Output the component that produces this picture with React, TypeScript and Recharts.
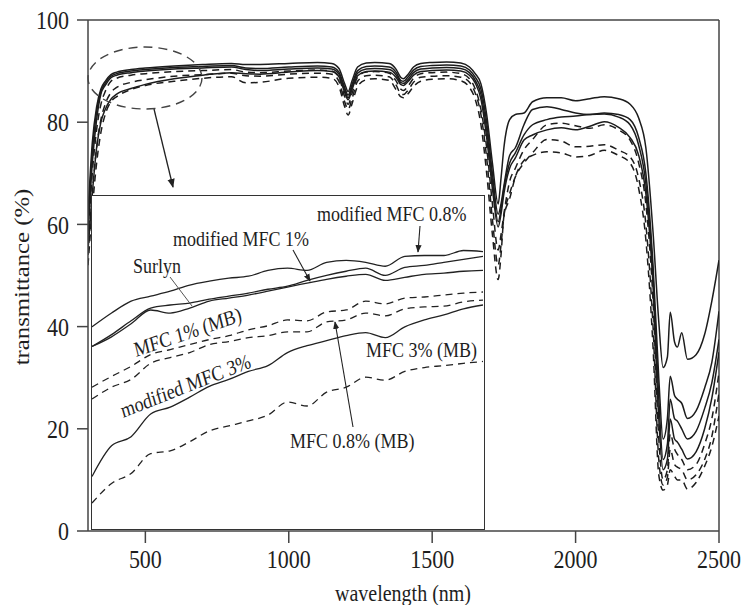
import React from 'react';
import { LineChart, Line, XAxis, YAxis, ReferenceLine } from 'recharts';

// main spectrum, wavelength in nm
const wavelength = [
  300, 315, 330, 345, 360, 380, 400, 450, 500, 600,
  700, 800, 850, 900, 1000, 1100, 1150, 1175, 1195, 1207,
  1220, 1240, 1270, 1300, 1350, 1375, 1390, 1400, 1415, 1435,
  1460, 1500, 1550, 1600, 1630, 1650, 1670, 1690, 1710, 1730,
  1740, 1750, 1770, 1790, 1820, 1850, 1900, 1950, 2000, 2050,
  2100, 2150, 2190, 2220, 2245, 2270, 2290, 2305, 2320, 2330,
  2345, 2355, 2370, 2390, 2420, 2450, 2475, 2500,
];

// solid curves
const solid1 = [
  62, 76, 83, 86.5, 88, 89.3, 89.8, 90.3, 90.6, 91.0,
  91.3, 91.5, 91.3, 91.3, 91.5, 91.7, 91.5, 90.5, 87.5, 86.0,
  88.0, 90.8, 91.6, 91.7, 91.5, 90.3, 88.8, 88.5, 89.3, 90.8,
  91.5, 91.7, 91.8, 91.6, 90.8, 89.5, 87.5, 81.5, 72, 64,
  69, 75, 80.5, 81.5, 81.8, 84, 84.8, 84.8, 84.2, 84.6,
  85.0, 84.6, 83.5, 80.8, 75, 58.5, 41, 32, 34, 42.8,
  37, 36, 38.8, 33.6, 34.5, 38.5, 45, 53,
];
const solid2 = [
  60, 74, 82, 86, 87.6, 89, 89.5, 90.0, 90.3, 90.7,
  90.9, 91.1, 90.6, 90.5, 90.8, 91.0, 90.8, 89.8, 86.8, 85.3,
  87.3, 90.1, 90.9, 91.0, 90.8, 89.7, 88.2, 88.0, 88.8, 90.2,
  90.9, 91.1, 91.2, 91.0, 90.2, 88.8, 86.5, 80, 70, 62,
  64, 67.5, 73.5, 75, 79.5, 82.5, 83, 82.5, 81.8, 81.5,
  81.8, 81.5, 80.5, 77, 70, 52, 30, 18, 22, 30.3,
  26.5, 25.8, 25, 22, 23.5, 28, 33, 43,
];
const solid3 = [
  58, 72, 80.5, 85.5, 87.2, 88.7, 89.2, 89.7, 90.0, 90.4,
  90.6, 90.8, 90.3, 90.1, 90.4, 90.6, 90.4, 89.4, 86.3, 84.8,
  86.8, 89.6, 90.4, 90.5, 90.3, 89.2, 87.8, 87.6, 88.3, 89.7,
  90.4, 90.6, 90.7, 90.5, 89.7, 88.2, 85.5, 78.5, 68.5, 60.5,
  63, 67, 72, 74, 77.5, 79.5, 80.5, 81, 81.2, 81.5,
  81.6, 81, 79.5, 75.5, 68, 50, 26, 14, 17, 25.8,
  22, 21.5, 20, 18, 19.5, 24, 29, 37.5,
];
const solid4 = [
  55, 66, 75, 80, 82.5, 84.5, 85.5, 86.6, 87.4, 88.5,
  89.2, 89.7, 89.5, 89.4, 89.8, 90.1, 89.9, 88.9, 85.8, 84.4,
  86.3, 89.1, 89.9, 90.0, 89.8, 88.7, 87.4, 87.2, 87.9, 89.2,
  89.9, 90.1, 90.2, 90.0, 89.2, 87.7, 84.5, 77, 67, 59.5,
  62, 66, 71, 73, 76.5, 77.5, 78.5, 78.9, 78.5, 79.2,
  80.1, 79, 77, 73.5, 66, 48, 22, 12, 14, 21.9,
  18, 17.4, 16, 14.1, 15.5, 20, 26, 35,
];

// dashed curves
const dashed1 = [
  57, 70, 78.5, 83.5, 86, 88, 88.6, 89.2, 89.5, 89.9,
  90.1, 90.3, 89.8, 89.7, 90.0, 90.2, 90.0, 88.8, 85, 83.5,
  85.5, 88.8, 89.8, 89.9, 89.6, 88, 86.5, 86.2, 87, 88.6,
  89.5, 89.7, 89.8, 89.5, 88.5, 86.5, 82.5, 75, 64, 55,
  58, 62, 68.4, 71, 74.6, 76.6, 79.5, 79.8, 79.3, 78.8,
  79.5, 78.5, 76.5, 72, 64, 45, 18, 10, 12, 19,
  16, 15, 14, 12, 13, 17, 22, 31,
];
const dashed2 = [
  54, 66, 75, 80.5, 83.5, 85.8, 86.8, 87.8, 88.3, 89.0,
  89.3, 89.6, 89.1, 89.0, 89.4, 89.6, 89.4, 88.0, 84, 82.5,
  84.5, 88, 89.1, 89.2, 88.9, 87.2, 85.6, 85.4, 86.2, 87.8,
  88.8, 89.0, 89.1, 88.8, 87.8, 85.7, 81.5, 73, 61, 52,
  56, 61.5, 66, 69.3, 72, 74, 76.6, 76.3, 75.2, 75.3,
  75.6, 74.5, 73.2, 69, 60, 40, 14, 9, 10.5, 16,
  13, 12.5, 12, 10, 11, 14, 18.5, 27,
];
const dashed3 = [
  52, 63, 72, 78, 81.5, 84, 85, 86.4, 87.2, 88.0,
  88.6, 88.9, 87.7, 87.8, 88.6, 88.8, 88.6, 87, 83, 81.4,
  83.5, 87, 88.3, 88.5, 88.2, 86.3, 85, 84.8, 85.5, 87,
  88, 88.4, 88.5, 88.1, 86.8, 84.5, 79.5, 70, 58, 49.2,
  54, 61.5, 65, 69.3, 72.5, 73.5, 74.2, 74, 73.2, 73.5,
  74.5, 73.5, 72, 67, 57, 36, 11, 8, 9, 12,
  10.7, 10, 10, 8.2, 9.5, 12.7, 16.5, 22.5,
];

// inset (close-up of the circled region)
const insetWavelength = [
  300, 320, 340, 360, 380, 400, 420, 440, 460, 480, 500,
  520, 540, 560, 580, 600, 620, 640, 660, 680, 700,
];
const insetModified08 = [87.27, 87.77, 88.2, 88.38, 88.56, 88.78, 88.92, 89.03, 89.1, 89.31, 89.39, 89.31, 89.6, 89.67, 89.6, 89.46, 89.82, 89.85, 89.85, 90.03, 89.99];
const insetModified1 = [86.56, 86.99, 87.49, 87.95, 88.06, 88.13, 88.27, 88.38, 88.49, 88.63, 88.74, 88.95, 89.13, 89.28, 89.39, 89.13, 89.42, 89.49, 89.6, 89.71, 89.82];
const insetSurlyn = [86.56, 86.91, 87.38, 87.88, 87.77, 87.95, 88.2, 88.31, 88.42, 88.56, 88.71, 88.85, 88.99, 89.1, 89.17, 88.95, 89.06, 89.17, 89.21, 89.28, 89.31];
const insetModified3 = [81.86, 82.97, 83.3, 84.12, 84.37, 84.73, 85.12, 85.37, 85.66, 85.87, 86.34, 86.59, 86.77, 86.95, 87.06, 86.88, 87.27, 87.52, 87.7, 87.92, 88.06];
const insetMB1 = [85.09, 85.48, 85.84, 86.27, 86.45, 86.63, 86.81, 86.95, 87.16, 87.31, 87.52, 87.49, 87.81, 87.88, 88.2, 88.1, 88.31, 88.35, 88.42, 88.49, 88.53];
const insetMB08 = [84.66, 85.09, 85.37, 85.95, 86.16, 86.34, 86.63, 86.74, 86.88, 86.95, 87.09, 87.09, 87.45, 87.52, 87.77, 87.67, 87.92, 87.99, 88.02, 88.17, 88.24];
const insetMB3 = [80.9, 81.61, 81.97, 82.69, 82.79, 83.12, 83.51, 83.69, 83.87, 84.08, 84.55, 84.41, 84.91, 85.09, 85.45, 85.34, 85.66, 85.8, 85.87, 85.95, 86.02];

const xTicks = [500, 1000, 1500, 2000, 2500];
const yTicks = [0, 20, 40, 60, 80, 100];

const serif = '"Liberation Serif", "Times New Roman", Times, serif';
const ink = '#1e1e1e';
const axisGrey = '#444';
// the source figure is a little taller than wide, so its glyphs look stretched
const stretch = 1.18;

const XTick = ({ x, y, payload }: any) => (
  <text
    x={0}
    y={0}
    dy="0.71em"
    textAnchor="middle"
    fontFamily={serif}
    fontSize={22}
    fill={ink}
    transform={`translate(${x},${y}) scale(1,${stretch})`}
  >
    {payload.value}
  </text>
);

const YTick = ({ x, y, payload }: any) => (
  <text
    x={0}
    y={0}
    dy="0.355em"
    textAnchor="end"
    fontFamily={serif}
    fontSize={22}
    fill={ink}
    transform={`translate(${x},${y}) scale(1,${stretch})`}
  >
    {payload.value}
  </text>
);

// horizontal note, baseline at (x, y)
const Note = ({ x, y, angle = 0, children }: any) => (
  <text
    x={0}
    y={0}
    transform={`translate(${x},${y}) scale(1,${stretch}) rotate(${-angle})`}
  >
    {children}
  </text>
);

export default function App() {
  const mainSeries = [
    { key: 's1', values: solid1, dashed: false },
    { key: 's2', values: solid2, dashed: false },
    { key: 's3', values: solid3, dashed: false },
    { key: 's4', values: solid4, dashed: false },
    { key: 'd1', values: dashed1, dashed: true },
    { key: 'd2', values: dashed2, dashed: true },
    { key: 'd3', values: dashed3, dashed: true },
  ];
  const insetSeries = [
    { key: 'm08', values: insetModified08, dashed: false },
    { key: 'm1', values: insetModified1, dashed: false },
    { key: 'su', values: insetSurlyn, dashed: false },
    { key: 'm3', values: insetModified3, dashed: false },
    { key: 'b1', values: insetMB1, dashed: true },
    { key: 'b08', values: insetMB08, dashed: true },
    { key: 'b3', values: insetMB3, dashed: true },
  ];

  const mainData = wavelength.map((w, i) => {
    const row: any = { w };
    mainSeries.forEach(s => (row[s.key] = s.values[i]));
    return row;
  });
  const insetData = insetWavelength.map((w, i) => {
    const row: any = { w };
    insetSeries.forEach(s => (row[s.key] = s.values[i]));
    return row;
  });

  return (
    <div
      style={{
        position: 'absolute',
        left: 0,
        top: 0,
        width: 745,
        height: 605,
        background: '#fff',
        overflow: 'hidden',
        fontFamily: serif,
      }}
    >
      <LineChart
        width={745}
        height={605}
        data={mainData}
        margin={{ top: 20, right: 26, left: 28, bottom: 44 }}
      >
        <XAxis
          dataKey="w"
          type="number"
          domain={[300, 2500]}
          ticks={xTicks}
          allowDataOverflow
          height={30}
          tickSize={12}
          tickMargin={7}
          axisLine={{ stroke: axisGrey, strokeWidth: 1.5 }}
          tickLine={{ stroke: axisGrey, strokeWidth: 1.5 }}
          tick={<XTick />}
        />
        <YAxis
          type="number"
          domain={[0, 100]}
          ticks={yTicks}
          allowDataOverflow
          width={60}
          tickSize={11}
          tickMargin={8}
          axisLine={{ stroke: axisGrey, strokeWidth: 1.5 }}
          tickLine={{ stroke: axisGrey, strokeWidth: 1.5 }}
          tick={<YTick />}
        />
        <ReferenceLine y={100} stroke={axisGrey} strokeWidth={1.5} />
        <ReferenceLine x={2500} stroke={axisGrey} strokeWidth={1.5} />
        {mainSeries.map(s => (
          <Line
            key={s.key}
            dataKey={s.key}
            type="monotone"
            stroke="#1c1c1c"
            strokeWidth={1.5}
            strokeDasharray={s.dashed ? '7 5' : undefined}
            dot={false}
            activeDot={false}
            isAnimationActive={false}
          />
        ))}
      </LineChart>

      {/* inset box */}
      <div
        style={{
          position: 'absolute',
          left: 91,
          top: 195,
          width: 394,
          height: 335,
          border: '1.5px solid #333',
          boxSizing: 'border-box',
          background: '#fff',
        }}
      >
        <LineChart
          width={391}
          height={332}
          data={insetData}
          margin={{ top: 0, right: 0, left: 0, bottom: 0 }}
        >
          <XAxis dataKey="w" type="number" domain={[300, 700]} hide />
          <YAxis type="number" domain={[80, 92]} hide />
          {insetSeries.map(s => (
            <Line
              key={s.key}
              dataKey={s.key}
              type="monotone"
              stroke="#222"
              strokeWidth={1.3}
              strokeDasharray={s.dashed ? '7 5' : undefined}
              dot={false}
              activeDot={false}
              isAnimationActive={false}
            />
          ))}
        </LineChart>
      </div>

      {/* annotations */}
      <svg
        width={745}
        height={605}
        style={{ position: 'absolute', left: 0, top: 0, pointerEvents: 'none' }}
      >
        <defs>
          <marker
            id="head"
            viewBox="0 0 10 10"
            refX="9"
            refY="5"
            markerWidth="7"
            markerHeight="7"
            orient="auto-start-reverse"
          >
            <path d="M0,1 L10,5 L0,9 z" fill="#222" />
          </marker>
        </defs>
        <ellipse
          cx={145}
          cy={78}
          rx={57}
          ry={31}
          fill="none"
          stroke="#444"
          strokeWidth={1.4}
          strokeDasharray="9 6"
        />
        <line x1={154} y1={109} x2={173} y2={187} stroke="#222" strokeWidth={1.3} markerEnd="url(#head)" />

        <g fontFamily={serif} fontSize={18} fill={ink}>
          <Note x={317} y={221}>modified MFC 0.8%</Note>
          <Note x={173} y={246}>modified MFC 1%</Note>
          <Note x={133} y={273}>Surlyn</Note>
          <Note x={136} y={357} angle={16}>MFC 1% (MB)</Note>
          <Note x={123} y={418} angle={18.5}>modified MFC 3%</Note>
          <Note x={366} y={357}>MFC 3% (MB)</Note>
          <Note x={290} y={448}>MFC 0.8% (MB)</Note>
        </g>
        <line x1={420} y1={226} x2={418} y2={252} stroke="#222" strokeWidth={1.1} markerEnd="url(#head)" />
        <line x1={293} y1={250} x2={310} y2={281} stroke="#222" strokeWidth={1.1} markerEnd="url(#head)" />
        <line x1={170} y1={277} x2={192} y2={306} stroke="#555" strokeWidth={1} />
        <line x1={353} y1={427} x2={335} y2={322} stroke="#222" strokeWidth={1.1} markerEnd="url(#head)" />

        <text
          x={0}
          y={0}
          transform={`translate(29,277) scale(1,${stretch}) rotate(-90)`}
          textAnchor="middle"
          fontFamily={serif}
          fontSize={21}
          fill={ink}
        >
          transmittance (%)
        </text>
        <text
          x={0}
          y={0}
          transform={`translate(403,601) scale(1,${stretch})`}
          textAnchor="middle"
          fontFamily={serif}
          fontSize={20}
          fill={ink}
        >
          wavelength (nm)
        </text>
      </svg>
    </div>
  );
}
